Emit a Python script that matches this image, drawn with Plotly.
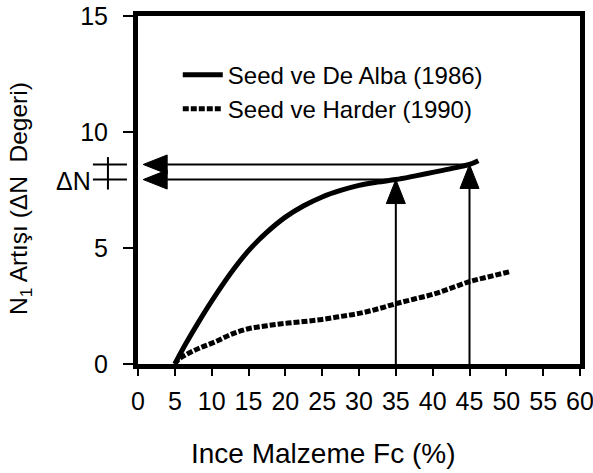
import numpy as np
import plotly.graph_objects as go

# ---- data ----
fc_alba = [5, 6.5, 8.3, 10.6, 12.9, 15.1, 17.4, 20, 22.5, 25, 27.5, 30, 32.5, 35, 37.5, 40, 42.5, 45, 46.2]
n_alba = [0, 0.88, 1.85, 3.0, 4.05, 4.92, 5.65, 6.33, 6.82, 7.2, 7.48, 7.7, 7.84, 7.95, 8.1, 8.26, 8.42, 8.6, 8.76]

fc_harder = [5, 5.5, 6.5, 8.3, 10.5, 12.8, 15, 17.5, 20, 22.5, 25, 27.5, 30, 32.5, 35, 37.5, 40, 42.5, 45, 47.5, 50.5]
n_harder = [0, 0.2, 0.4, 0.68, 0.96, 1.3, 1.52, 1.65, 1.75, 1.83, 1.92, 2.05, 2.18, 2.37, 2.6, 2.8, 3.0, 3.27, 3.55, 3.75, 3.98]

series_names = ["Seed ve De Alba (1986)", "Seed ve Harder (1990)"]
x_ticks = list(range(0, 65, 5))
y_ticks = [0, 5, 10, 15]
arrow_fc = [35, 45]          # Fc values where the arrows start
arrow_tip_fc = 0.7           # left end of horizontal arrows
x_title = "Ince Malzeme Fc (%)"
y_title = "N<sub>1</sub> Artışı (ΔN\u00a0\u00a0Degeri)"
dn_label = "ΔN"

arrow_n = np.interp(arrow_fc, fc_alba, n_alba)

# ---- layout geometry ----
W, H = 593, 473
ML, MR, MT, MB = 138, 13, 16, 109
x_range = [0, 60]
y_range = [0, 15]
px_x = (W - ML - MR) / (x_range[1] - x_range[0])
px_y = (H - MT - MB) / (y_range[1] - y_range[0])
head_len, head_half = 24, 9.5
FONT = "Liberation Sans, Arial, Helvetica, sans-serif"

fig = go.Figure()

fig.add_trace(go.Scatter(x=fc_alba, y=n_alba, mode="lines", name=series_names[0],
                         line=dict(color="black", width=5, shape="spline")))
fig.add_trace(go.Scatter(x=fc_harder, y=n_harder, mode="lines", name=series_names[1],
                         line=dict(color="black", width=5, shape="spline", dash="6px,2px")))

# arrows
for fc, n in zip(arrow_fc, arrow_n):
    fig.add_trace(go.Scatter(x=[fc, fc], y=[0, n - head_len / px_y], mode="lines",
                             line=dict(color="black", width=2), showlegend=False, hoverinfo="skip"))
    fig.add_trace(go.Scatter(x=[fc, fc - head_half / px_x, fc + head_half / px_x, fc],
                             y=[n, n - head_len / px_y, n - head_len / px_y, n],
                             mode="lines", fill="toself", fillcolor="black",
                             line=dict(color="black", width=1), showlegend=False, hoverinfo="skip"))
    fig.add_trace(go.Scatter(x=[fc, arrow_tip_fc + head_len / px_x], y=[n, n], mode="lines",
                             line=dict(color="black", width=2), showlegend=False, hoverinfo="skip"))
    fig.add_trace(go.Scatter(x=[arrow_tip_fc, arrow_tip_fc + head_len / px_x, arrow_tip_fc + head_len / px_x, arrow_tip_fc],
                             y=[n, n + head_half / px_y, n - head_half / px_y, n],
                             mode="lines", fill="toself", fillcolor="black",
                             line=dict(color="black", width=1), showlegend=False, hoverinfo="skip"))

# ΔN marks outside the axis
shapes = []
for n in arrow_n:
    shapes.append(dict(type="line", xref="paper", yref="y", x0=-0.102, x1=-0.025, y0=n, y1=n,
                       line=dict(color="black", width=2)))
shapes.append(dict(type="line", xref="paper", yref="y", x0=-0.068, x1=-0.068,
                   y0=min(arrow_n) - 0.43, y1=max(arrow_n) + 0.32, line=dict(color="black", width=2)))

annotations = [
    dict(text=dn_label, xref="paper", yref="y", x=-0.145, y=float(np.mean(arrow_n)), yshift=-9,
         xanchor="center", yanchor="middle", showarrow=False,
         font=dict(size=25, color="black", family=FONT)),
    dict(text=x_title, xref="paper", yref="paper", x=0.42, y=-0.256, xanchor="center", yanchor="middle",
         showarrow=False, font=dict(size=28, color="black", family=FONT)),
    dict(text=y_title, xref="paper", yref="paper", x=-0.267, y=0.477, xanchor="center", yanchor="middle",
         showarrow=False, textangle=-90, font=dict(size=24.5, color="black", family=FONT)),
]

fig.update_layout(
    width=W, height=H,
    margin=dict(l=ML, r=MR, t=MT, b=MB, pad=0, autoexpand=False),
    paper_bgcolor="white", plot_bgcolor="white",
    font=dict(family=FONT, color="black", size=25),
    shapes=shapes, annotations=annotations,
    legend=dict(x=0.09, y=0.895, xanchor="left", yanchor="top", bgcolor="rgba(0,0,0,0)",
                font=dict(size=24), itemwidth=40, tracegroupgap=0),
)
fig.update_xaxes(range=x_range, tickvals=x_ticks, ticktext=[str(v) for v in x_ticks],
                 showgrid=False, zeroline=False, showline=True, linecolor="black", linewidth=5,
                 mirror=True, ticks="outside", ticklen=7, tickwidth=2, tickcolor="black",
                 tickfont=dict(size=25), ticklabelstandoff=4, automargin=False,
                 ticklabeloverflow="allow")
fig.update_yaxes(range=y_range, tickvals=y_ticks, ticktext=[str(v) for v in y_ticks],
                 showgrid=False, zeroline=False, showline=True, linecolor="black", linewidth=5,
                 mirror=True, ticks="outside", ticklen=10, tickwidth=2, tickcolor="black",
                 tickfont=dict(size=25), ticklabelstandoff=10, automargin=False,
                 ticklabeloverflow="allow")

fig.write_html("out.html")
